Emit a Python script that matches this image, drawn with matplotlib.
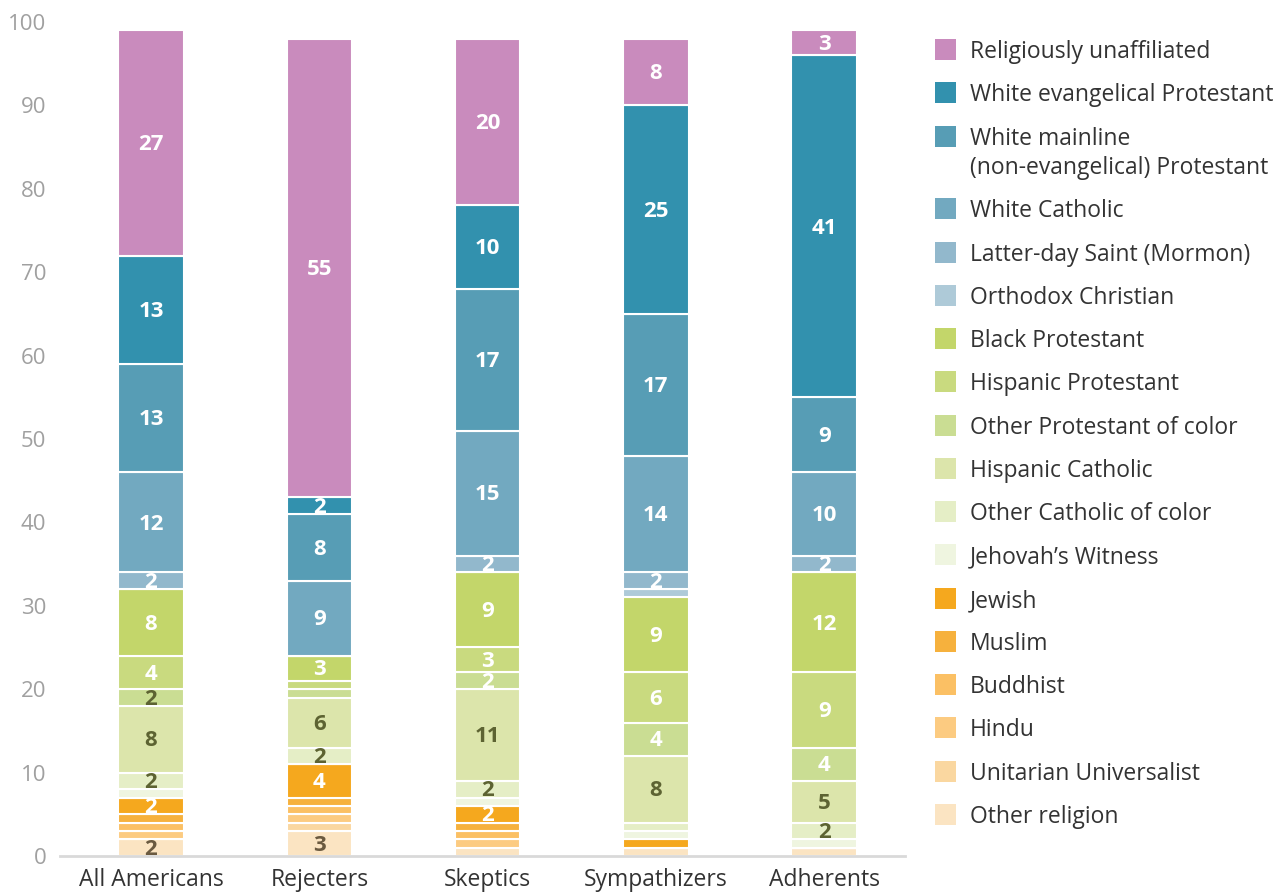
import matplotlib

matplotlib.use("Agg")
import matplotlib.pyplot as plt  # noqa: E402
from matplotlib.patches import Rectangle  # noqa: E402

plt.rcParams["font.family"] = ["Open Sans", "DejaVu Sans"]

groups = ["All Americans", "Rejecters", "Skeptics", "Sympathizers", "Adherents"]

# series listed bottom-to-top of the stack
series = [
    "Other religion",
    "Unitarian Universalist",
    "Hindu",
    "Buddhist",
    "Muslim",
    "Jewish",
    "Jehovah\u2019s Witness",
    "Other Catholic of color",
    "Hispanic Catholic",
    "Other Protestant of color",
    "Hispanic Protestant",
    "Black Protestant",
    "Orthodox Christian",
    "Latter-day Saint (Mormon)",
    "White Catholic",
    "White mainline\n(non-evangelical) Protestant",
    "White evangelical Protestant",
    "Religiously unaffiliated",
]

values = {
    "Other religion":              [2, 3, 1, 1, 1],
    "Unitarian Universalist":      [0, 1, 0, 0, 0],
    "Hindu":                       [1, 1, 1, 0, 0],
    "Buddhist":                    [1, 1, 1, 0, 0],
    "Muslim":                      [1, 1, 1, 0, 0],
    "Jewish":                      [2, 4, 2, 1, 0],
    "Jehovah\u2019s Witness":      [1, 0, 1, 1, 1],
    "Other Catholic of color":     [2, 2, 2, 1, 2],
    "Hispanic Catholic":           [8, 6, 11, 8, 5],
    "Other Protestant of color":   [2, 1, 2, 4, 4],
    "Hispanic Protestant":         [4, 1, 3, 6, 9],
    "Black Protestant":            [8, 3, 9, 9, 12],
    "Orthodox Christian":          [0, 0, 0, 1, 0],
    "Latter-day Saint (Mormon)":   [2, 0, 2, 2, 2],
    "White Catholic":              [12, 9, 15, 14, 10],
    "White mainline\n(non-evangelical) Protestant": [13, 8, 17, 17, 9],
    "White evangelical Protestant": [13, 2, 10, 25, 41],
    "Religiously unaffiliated":    [27, 55, 20, 8, 3],
}

colors = {
    "Other religion": "#fbe4c2",
    "Unitarian Universalist": "#fad7a0",
    "Hindu": "#fccb81",
    "Buddhist": "#fbc064",
    "Muslim": "#f6b13d",
    "Jewish": "#f5a81e",
    "Jehovah\u2019s Witness": "#eff5e0",
    "Other Catholic of color": "#e5eec6",
    "Hispanic Catholic": "#dce5ab",
    "Other Protestant of color": "#cadd93",
    "Hispanic Protestant": "#c9da7f",
    "Black Protestant": "#c3d66a",
    "Orthodox Christian": "#aecad8",
    "Latter-day Saint (Mormon)": "#92b8cc",
    "White Catholic": "#72a9c0",
    "White mainline\n(non-evangelical) Protestant": "#579db5",
    "White evangelical Protestant": "#3291ae",
    "Religiously unaffiliated": "#c98bbd",
}

DARK_GREEN = "#5d6332"
DARK_BROWN = "#6b5a40"
label_colors = {
    "Other religion": DARK_BROWN,
    "Hispanic Catholic": DARK_GREEN,
    "Other Catholic of color": DARK_GREEN,
}
# odd one out: the "2" on All Americans / Other Protestant of color is dark
label_override = {("Other Protestant of color", 0): DARK_GREEN}

fig = plt.figure(figsize=(12.8, 8.92), dpi=100)
ax = fig.add_axes([0.047, 0.0404, 0.66, 0.9349])

x = list(range(len(groups)))
bottoms = [0] * len(groups)
for s in series:
    vals = values[s]
    ax.bar(x, vals, width=0.39, bottom=bottoms, color=colors[s],
           edgecolor="white", linewidth=1.5, zorder=2)
    for i, v in enumerate(vals):
        if v >= 2:
            c = label_override.get((s, i), label_colors.get(s, "white"))
            ax.text(i, bottoms[i] + v / 2 - 0.2, str(v), ha="center", va="center",
                    fontsize=16, fontweight="bold", color=c, zorder=3)
    bottoms = [b + v for b, v in zip(bottoms, vals)]

ax.set_xlim(-0.54, 4.48)
ax.set_ylim(0, 100)
ax.set_yticks(range(0, 101, 10))
ax.set_xticks(x)
ax.set_xticklabels(groups, fontsize=16.5, color="#333333")
ax.tick_params(axis="y", labelsize=16, colors="#a0a0a0", length=0, pad=10)
ax.tick_params(axis="x", length=0, pad=9)
for side in ["top", "right", "left"]:
    ax.spines[side].set_visible(False)
ax.spines["bottom"].set_color("#d9d9d9")
ax.spines["bottom"].set_linewidth(2)

# legend, top-to-bottom (reverse of stack order)
W, H = 1280.0, 892.0
legend_rows = list(reversed(series))
row_y = [50, 93, 137, 209, 253, 296, 339, 382, 426, 469, 512, 555, 599, 642,
         685, 728, 772, 815]
for name, yy in zip(legend_rows, row_y):
    fig.patches.append(Rectangle((935 / W, 1 - (yy + 10) / H), 21 / W, 21 / H,
                                 transform=fig.transFigure, facecolor=colors[name],
                                 edgecolor="none"))
    two_line = "\n" in name
    fig.text(970 / W, 1 - (yy - 10 if two_line else yy + 2) / H, name,
             fontsize=16.5, color="#333333",
             va="top" if two_line else "center", ha="left", linespacing=1.3)

fig.savefig("out.png", dpi=100)
